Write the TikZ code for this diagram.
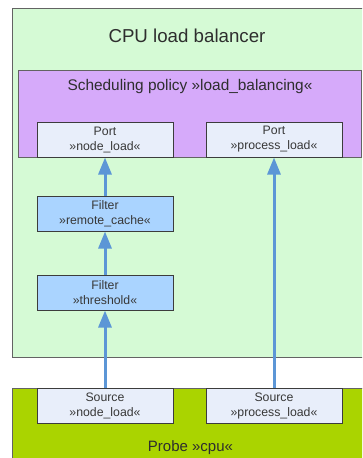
\documentclass[tikz,border=0pt]{standalone}
\usepackage{fontspec}
\setmainfont{Liberation Sans}
\usetikzlibrary{arrows.meta}
\definecolor{balgreen}{RGB}{213,250,213}
\definecolor{polpurple}{RGB}{214,170,250}
\definecolor{portfill}{RGB}{232,238,250}
\definecolor{filterblue}{RGB}{170,212,255}
\definecolor{probegreen}{RGB}{170,212,0}
\definecolor{flowblue}{RGB}{92,150,214}
\definecolor{edgegray}{RGB}{60,60,60}
\tikzset{
  container/.style={draw=edgegray!80, line width=0.8pt, inner sep=0pt, anchor=north west},
  smallbox/.style={draw=edgegray, line width=1pt, fill=portfill, minimum width=136pt,
    minimum height=35pt, inner sep=0pt, align=center,
    font=\fontsize{12.3}{15}\selectfont, text=black!78},
  filterbox/.style={smallbox, fill=filterblue},
  flow/.style={draw=flowblue, line width=3pt,
    -{Triangle[length=17pt,width=13pt]}},
  heading/.style={text=black!82, inner sep=0pt}
}
\begin{document}
\begin{tikzpicture}[x=1pt,y=-1pt]
\useasboundingbox (0,0) rectangle (362,458);
\clip (0,0) rectangle (362,458);
% load balancer container and policy region
\node[container, fill=balgreen, minimum width=352pt, minimum height=349pt] (balancer) at (12,8) {};
\node[heading, font=\fontsize{18.7}{22}\selectfont] (baltitle) at (187,36) {CPU load balancer};
\node[container, fill=polpurple, minimum width=343pt, minimum height=87pt] (policy) at (18,70) {};
\node[heading, font=\fontsize{15.4}{18}\selectfont] (poltitle) at (190,87) {Scheduling policy »load\_balancing«};
% ports
\node[smallbox] (portnode) at (105,139.5) {Port\\»node\_load«};
\node[smallbox] (portproc) at (274,139.5) {Port\\»process\_load«};
% filters
\node[filterbox] (fcache) at (105,213.5) {Filter\\»remote\_cache«};
\node[filterbox] (fthresh) at (105,292.5) {Filter\\»threshold«};
% probe with its sources
\node[container, fill=probegreen, minimum width=352pt, minimum height=80pt] (probe) at (12,388) {};
\node[heading, font=\fontsize{15}{18}\selectfont] (probetitle) at (190.5,448) {Probe »cpu«};
\node[smallbox] (srcnode) at (105,405.5) {Source\\»node\_load«};
\node[smallbox] (srcproc) at (274,405.5) {Source\\»process\_load«};
% data flow
\draw[flow] (srcnode.north) -- (fthresh.south);
\draw[flow] (fthresh.north) -- (fcache.south);
\draw[flow] (fcache.north) -- (portnode.south);
\draw[flow] (srcproc.north) -- (portproc.south);
\end{tikzpicture}
\end{document}
